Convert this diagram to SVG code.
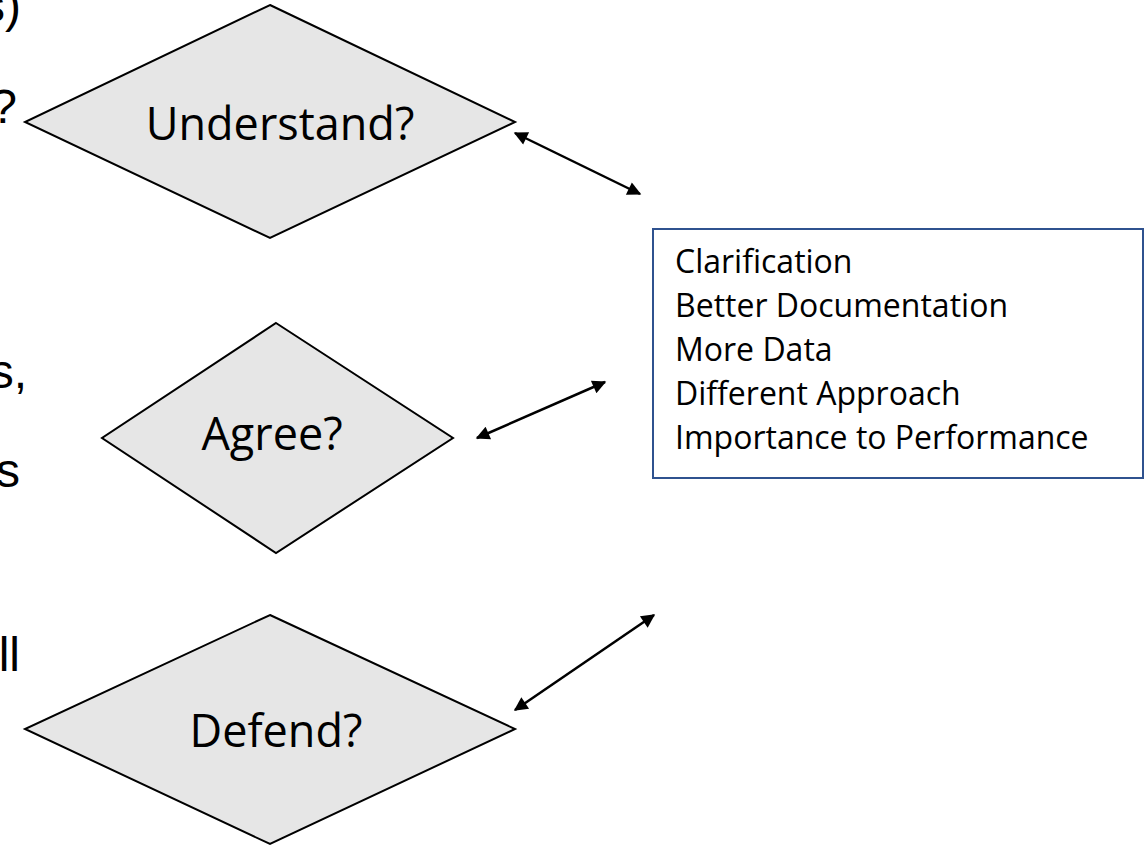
<svg xmlns="http://www.w3.org/2000/svg" width="1145" height="846" viewBox="0 0 1145 846">
<style>
.dia{fill:#e6e6e6;stroke:#000;stroke-width:2;stroke-linejoin:miter}
.dt{font-family:"Open Sans","Liberation Sans",sans-serif;font-size:45px;fill:#000;text-anchor:middle}
.lt{font-family:"Liberation Sans",Arial,sans-serif;font-size:48px;fill:#000;text-anchor:end}
.bt{font-family:"Open Sans","Liberation Sans",sans-serif;font-size:32px;fill:#000}
.con{stroke:#000;stroke-width:2.5;fill:none;marker-start:url(#ah);marker-end:url(#ah)}
</style>
<defs>
<marker id="ah" viewBox="0 0 10 10" refX="9" refY="5" markerWidth="6.5" markerHeight="5.5" markerUnits="strokeWidth" orient="auto-start-reverse">
<path d="M0,0 L10,5 L0,10 z" fill="#000"/>
</marker>
</defs>
<rect width="1145" height="846" fill="#fff"/>
<g id="left-text">
<text class="lt" x="21" y="22">s)</text>
<text class="lt" x="17" y="123">?</text>
<text class="lt" x="27" y="388">s,</text>
<text class="lt" x="20" y="487">s</text>
<text class="lt" x="20" y="671">ll</text>
</g>
<g id="understand">
<polygon class="dia" points="270,5 515,122 270,238 25,122"/>
<text class="dt" x="280" y="140">Understand?</text>
</g>
<g id="agree">
<polygon class="dia" points="276,323 453,438 276,553 102,438"/>
<text class="dt" x="272" y="450">Agree?</text>
</g>
<g id="defend">
<polygon class="dia" points="270,615 515,729 270,844 25,729"/>
<text class="dt" x="276" y="747">Defend?</text>
</g>
<g id="options">
<rect x="653" y="229" width="490" height="249" fill="#fff" stroke="#2f528f" stroke-width="2"/>
<text class="bt" x="675" y="273">Clarification</text>
<text class="bt" x="675" y="317">Better Documentation</text>
<text class="bt" x="675" y="361">More Data</text>
<text class="bt" x="675" y="405">Different Approach</text>
<text class="bt" x="675" y="449">Importance to Performance</text>
</g>
<g id="connectors">
<line class="con" x1="515" y1="133" x2="640" y2="194"/>
<line class="con" x1="477" y1="438" x2="605" y2="382"/>
<line class="con" x1="515" y1="710" x2="654" y2="615"/>
</g>
</svg>
